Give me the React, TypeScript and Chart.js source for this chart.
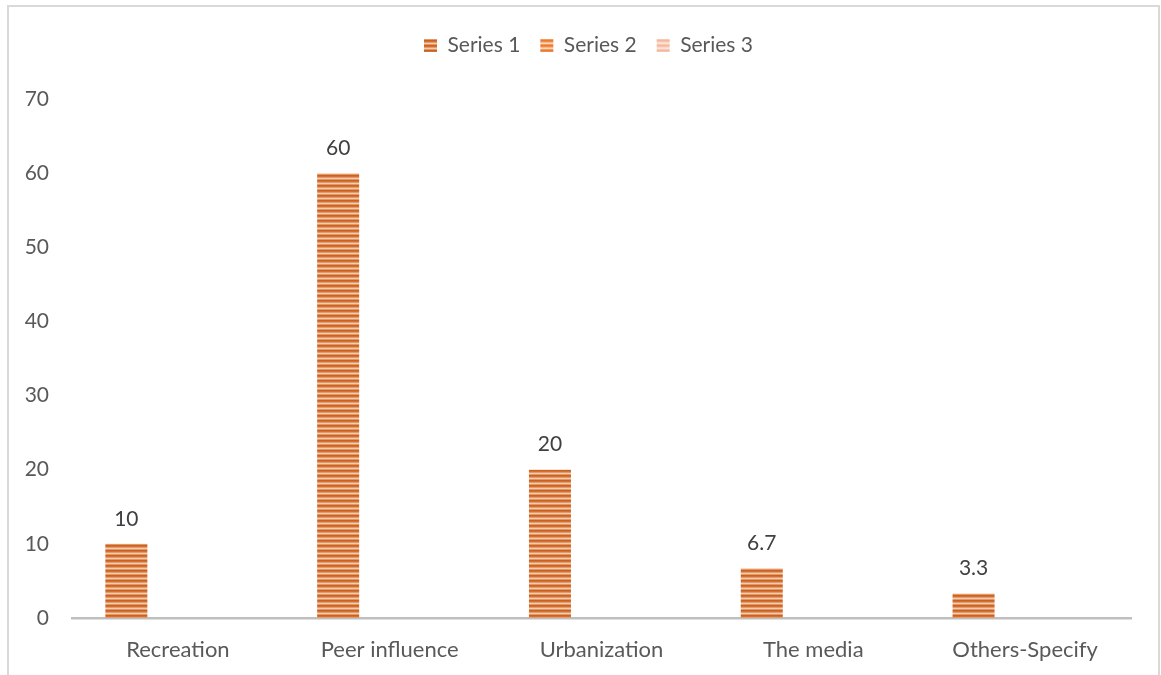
import React, { useEffect, useRef } from "react";
import { Chart, registerables } from "chart.js";

Chart.register(...registerables);

const categories = ["Recreation", "Peer influence", "Urbanization", "The media", "Others-Specify"];
const series1 = [10, 60, 20, 6.7, 3.3];
const series2: (number | null)[] = [null, null, null, null, null];
const series3: (number | null)[] = [null, null, null, null, null];
const seriesNames = ["Series 1", "Series 2", "Series 3"];
const yTicks = [0, 10, 20, 30, 40, 50, 60, 70];

const FONT = "Lato, 'Open Sans', sans-serif";

// Horizontal striped fill used for the bars and legend swatches
function stripes(colors: string[]): CanvasPattern | string {
  const c = document.createElement("canvas");
  c.width = 4;
  c.height = colors.length;
  const g = c.getContext("2d");
  if (!g) return colors[0];
  colors.forEach((col, i) => {
    g.fillStyle = col;
    g.fillRect(0, i, 4, 1);
  });
  return g.createPattern(c, "repeat") || colors[0];
}

const valueLabels = {
  id: "valueLabels",
  afterDatasetsDraw(chart: any) {
    const ctx = chart.ctx;
    const meta = chart.getDatasetMeta(0);
    const data = chart.data.datasets[0].data;
    ctx.save();
    ctx.font = `21px ${FONT}`;
    ctx.fillStyle = "#404040";
    ctx.textAlign = "center";
    ctx.textBaseline = "middle";
    meta.data.forEach((bar: any, i: number) => {
      const v = data[i];
      if (v == null) return;
      ctx.fillText(String(v), bar.x, bar.y - 25);
    });
    ctx.restore();
  },
};

// Extra room under the legend, and centre it on the whole framed area
const legendPlacement = {
  id: "legendPlacement",
  beforeInit(chart: any) {
    const fit = chart.legend.fit;
    chart.legend.fit = function () {
      fit.bind(this)();
      this.height += 33;
    };
  },
  afterLayout(chart: any) {
    const lg = chart.legend;
    if (!lg) return;
    lg.left += 23;
    lg.right += 23;
  },
};

export default function App() {
  const ref = useRef<HTMLCanvasElement>(null);

  useEffect(() => {
    if (!ref.current) return;
    const fill1 = stripes(["#C9621F", "#D27036", "#E39A6C", "#F4CDB0", "#E39865"]);
    const fill2 = stripes(["#EC7A2E", "#F08A45", "#F6B88E", "#FAD8BF", "#F29A5E"]);
    const fill3 = stripes(["#F4B69C", "#F6C4AE", "#FAD9CB", "#FBE3D8", "#F7C9B5"]);

    const chart = new Chart(ref.current, {
      type: "bar",
      data: {
        labels: categories,
        datasets: [
          { label: seriesNames[0], data: series1, backgroundColor: fill1 as any },
          { label: seriesNames[1], data: series2, backgroundColor: fill2 as any },
          { label: seriesNames[2], data: series3, backgroundColor: fill3 as any },
        ],
      },
      options: {
        responsive: false,
        animation: false,
        datasets: {
          bar: { categoryPercentage: 0.73, barPercentage: 0.815 },
        },
        layout: { padding: { top: 15, right: 30, left: 0, bottom: 0 } },
        plugins: {
          tooltip: { enabled: false },
          legend: {
            position: "top",
            labels: {
              boxWidth: 13,
              boxHeight: 13,
              padding: 20,
              color: "#595959",
              font: { family: FONT, size: 21 },
            },
          },
        },
        scales: {
          x: {
            grid: { display: false, drawTicks: false },
            border: { display: true, color: "#BFBFBF", width: 2.5 },
            ticks: { color: "#595959", padding: 19, font: { family: FONT, size: 22 } },
            afterFit(scale: any) {
              scale.height = 57;
            },
          },
          y: {
            min: 0,
            max: 70,
            afterBuildTicks(scale: any) {
              scale.ticks = yTicks.map((v) => ({ value: v }));
            },
            grid: { display: false, drawTicks: false },
            border: { display: false },
            ticks: { color: "#595959", padding: 23, font: { family: FONT, size: 21 } },
            afterFit(scale: any) {
              scale.width = 72;
            },
          },
        },
      },
      plugins: [valueLabels, legendPlacement],
    });
    return () => chart.destroy();
  }, []);

  return (
    <div
      style={{
        position: "fixed",
        left: 0,
        top: 0,
        width: 1161,
        height: 675,
        overflow: "hidden",
        background: "#fff",
      }}
    >
      <canvas ref={ref} width={1161} height={675} style={{ display: "block" }} />
      <div
        style={{
          position: "absolute",
          left: 7,
          top: 5,
          width: 1153,
          height: 720,
          border: "2px solid #D9D9D9",
          boxSizing: "border-box",
          pointerEvents: "none",
        }}
      />
    </div>
  );
}
